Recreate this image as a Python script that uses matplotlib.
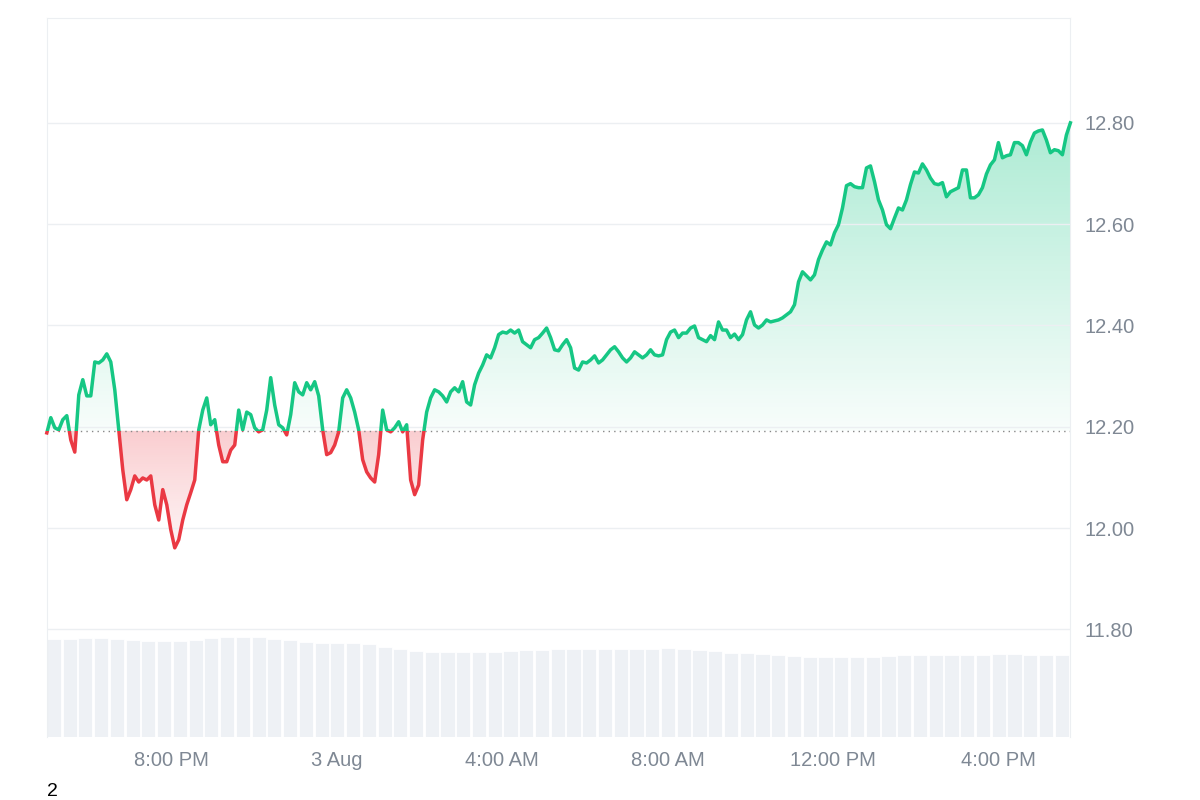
import numpy as np, pandas as pd
import matplotlib
matplotlib.use("Agg")
import matplotlib.pyplot as plt
import matplotlib.dates as mdates
from matplotlib.patches import Rectangle
from matplotlib.path import Path
from matplotlib.colors import LinearSegmentedColormap

plt.rcParams['font.family'] = ['Liberation Sans', 'DejaVu Sans']

prices = [12.188,12.218,12.198,12.194,12.214,12.222,12.174,12.150,12.263,12.293,12.261,12.261,12.328,12.326,12.332,12.344,12.328,12.273,12.194,12.115,
12.056,12.076,12.103,12.091,12.099,12.095,12.103,12.046,12.016,12.076,12.046,11.997,11.961,11.977,12.016,12.046,12.070,12.095,12.194,12.233,
12.257,12.204,12.214,12.164,12.131,12.131,12.154,12.164,12.233,12.194,12.229,12.224,12.198,12.190,12.194,12.233,12.297,12.243,12.204,12.198,
12.184,12.224,12.287,12.269,12.263,12.287,12.273,12.289,12.261,12.194,12.145,12.149,12.164,12.190,12.257,12.273,12.257,12.229,12.194,12.135,
12.111,12.099,12.091,12.145,12.233,12.194,12.190,12.198,12.210,12.190,12.204,12.095,12.066,12.085,12.174,12.229,12.257,12.273,12.269,12.261,
12.249,12.269,12.277,12.269,12.289,12.249,12.243,12.283,12.306,12.322,12.342,12.336,12.356,12.382,12.387,12.385,12.391,12.385,12.391,12.368,
12.362,12.356,12.372,12.376,12.385,12.395,12.376,12.352,12.350,12.362,12.372,12.356,12.316,12.312,12.328,12.326,12.332,12.340,12.326,12.332,
12.342,12.352,12.358,12.348,12.336,12.328,12.336,12.348,12.342,12.336,12.342,12.352,12.342,12.340,12.342,12.372,12.387,12.391,12.376,12.385,
12.385,12.395,12.399,12.376,12.372,12.368,12.380,12.372,12.407,12.391,12.391,12.376,12.383,12.372,12.382,12.411,12.427,12.401,12.395,12.401,
12.411,12.407,12.409,12.411,12.415,12.421,12.427,12.441,12.486,12.506,12.498,12.490,12.500,12.530,12.549,12.565,12.559,12.583,12.599,12.632,
12.676,12.680,12.674,12.672,12.672,12.711,12.715,12.684,12.648,12.628,12.599,12.591,12.612,12.632,12.628,12.648,12.678,12.703,12.701,12.719,
12.707,12.691,12.680,12.678,12.682,12.654,12.664,12.668,12.672,12.707,12.707,12.652,12.652,12.658,12.672,12.699,12.717,12.727,12.761,12.731,
12.735,12.737,12.761,12.761,12.755,12.737,12.762,12.780,12.784,12.786,12.766,12.741,12.747,12.745,12.737,12.776,12.800]
baseline = 12.192
volumes = [98,98,99,99,98,97,96,96,96,97,99,100,100,100,98,97,95,94,94,94,93,90,88,86,85,85,85,85,85,86,87,87,88,88,88,88,88,88,88,
           89,88,87,86,84,84,83,82,81,80,80,80,80,80,81,82,82,82,82,82,82,83,83,82,82,82,82]
yticks = [11.80,12.00,12.20,12.40,12.60,12.80]

times = pd.date_range("2024-08-02 16:59", "2024-08-03 17:45", periods=len(prices))
x = mdates.date2num(times)
p = np.array(prices)

fig = plt.figure(figsize=(12,8), dpi=100)
ax = fig.add_axes([0.039,0.079,0.853,0.8985])
ymin, ymax = 11.588, 13.007

axv = ax.twinx()
axv.set_ylim(0, 720)
vt = pd.date_range(times[0], times[-1], periods=len(volumes))
vx = mdates.date2num(vt)
w = (vx[1]-vx[0])*0.9
axv.bar(vx, volumes, width=w, color="#eef1f5", align="edge", zorder=0, edgecolor="white", linewidth=0.6)
axv.set_yticks([]); axv.set_xlim(x[0], x[-1])
for s in axv.spines.values(): s.set_visible(False)
ax.set_zorder(axv.get_zorder()+1); ax.patch.set_visible(False)

top = p.max()
grad = np.linspace(0,1,256).reshape(-1,1)
gcm = LinearSegmentedColormap.from_list("g", [(0.086,0.78,0.52,0.03),(0.086,0.78,0.52,0.35)])
rcm = LinearSegmentedColormap.from_list("r", [(0.92,0.22,0.26,0.25),(0.92,0.22,0.26,0.05)])
fg = ax.fill_between(x, p, baseline, where=p>=baseline, interpolate=True, color="none")
im = ax.imshow(grad, extent=[x[0],x[-1],baseline,top], aspect="auto", cmap=gcm, origin="lower", zorder=1)
im.set_clip_path(Path.make_compound_path(*fg.get_paths()), transform=ax.transData)
fr = ax.fill_between(x, p, baseline, where=p<baseline, interpolate=True, color="none")
im2 = ax.imshow(grad, extent=[x[0],x[-1],p.min(),baseline], aspect="auto", cmap=rcm, origin="upper", zorder=1)
im2.set_clip_path(Path.make_compound_path(*fr.get_paths()), transform=ax.transData)
ax.set_xlim(x[0], x[-1]); ax.set_ylim(ymin, ymax)

lg, = ax.plot(x, p, color="#16c784", lw=2.5, zorder=3, solid_joinstyle="round")
lr, = ax.plot(x, p, color="#ea3943", lw=2.5, zorder=3, solid_joinstyle="round")
rg = Rectangle((x[0]-1, baseline), x[-1]-x[0]+2, 5, transform=ax.transData)
rr = Rectangle((x[0]-1, baseline-5), x[-1]-x[0]+2, 5, transform=ax.transData)
lg.set_clip_path(rg); lr.set_clip_path(rr)
ax.axhline(baseline, color="#888888", lw=1, ls=(0,(1,3)), zorder=2)

ax.yaxis.tick_right()
ax.set_yticks(yticks)
ax.set_yticklabels([f"{v:.2f}" for v in yticks])
ax.grid(axis="y", color="#eceff2", lw=1)
ax.tick_params(axis="both", length=0, labelsize=14.5, labelcolor="#7f8894", pad=10)
ax.xaxis.set_major_locator(mdates.HourLocator(byhour=[0,4,8,12,16,20]))
def fmt(v, pos):
    d = mdates.num2date(v)
    if d.hour == 0: return f"{d.day} Aug"
    h = d.hour % 12 or 12
    return f"{h}:00 {'AM' if d.hour<12 else 'PM'}"
ax.xaxis.set_major_formatter(plt.FuncFormatter(fmt))
for s in ["left","top","right"]:
    ax.spines[s].set_color("#eceff2")
ax.spines["bottom"].set_visible(False)
fig.text(0.039, 0.0, "2", fontsize=14, color="black", va="bottom", ha="left")
fig.savefig("out.png", dpi=100)
